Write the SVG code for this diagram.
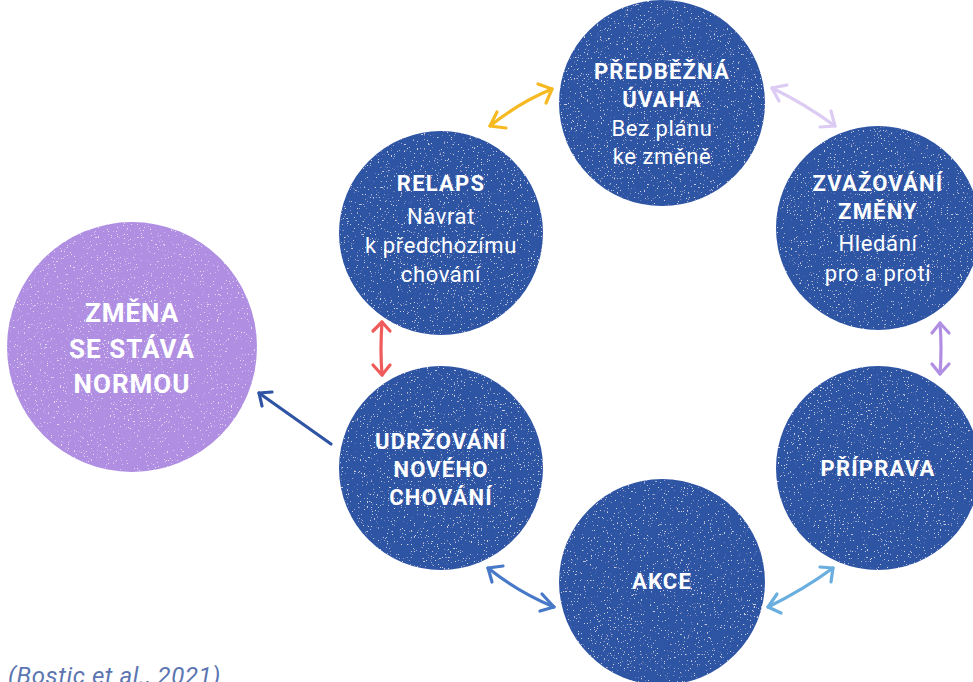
<svg xmlns="http://www.w3.org/2000/svg" width="973" height="682" viewBox="0 0 973 682">
<style>
.node{fill:#2f54a4}
.norm{fill:#b08fe3}
.b{font-family:Roboto,"Liberation Sans",sans-serif;font-weight:700;font-size:22px;letter-spacing:1.2px;fill:#fff;text-anchor:middle}
.r{font-family:Roboto,"Liberation Sans",sans-serif;font-weight:400;font-size:22px;letter-spacing:0.6px;fill:#fff;text-anchor:middle}
.big{font-family:Roboto,"Liberation Sans",sans-serif;font-weight:700;font-size:26px;letter-spacing:1px;fill:#fff;text-anchor:middle}
.c{fill:none;stroke-width:3.2;stroke-linecap:round;stroke-linejoin:round}
</style>
<defs>
<filter id="speck" x="0" y="0" width="100%" height="100%">
<feTurbulence type="fractalNoise" baseFrequency="0.7" numOctaves="2" seed="3" result="n"/>
<feColorMatrix in="n" type="matrix" values="0 0 0 0 1  0 0 0 0 1  0 0 0 0 1  14 0 0 0 -9.6" result="d"/>
<feComposite in="d" in2="SourceGraphic" operator="in" result="dm"/>
<feComponentTransfer in="dm" result="dm2"><feFuncA type="linear" slope="0.6"/></feComponentTransfer>
<feMerge><feMergeNode in="SourceGraphic"/><feMergeNode in="dm2"/></feMerge>
</filter>
</defs>
<g id="connectors">
<g stroke="#f6b921" class="c"><path d="M490 126 Q520 102 552 89"/><path d="M506 128 L490 126 L497 112"/><path d="M538 84 L552 89 L546 103"/></g>
<g stroke="#dccbf3" class="c"><path d="M772 88 Q805 104 835 126"/><path d="M787 85 L772 88 L779 101"/><path d="M831 111 L835 126 L820 127"/></g>
<g stroke="#b08fe3" class="c"><path d="M940 323 Q942 349 940 374"/><path d="M932 333 L940 323 L949 333"/><path d="M932 364 L940 374 L949 364"/></g>
<g stroke="#ef5a5a" class="c"><path d="M382 322 Q380 349 382 375"/><path d="M373 331 L382 322 L390 331"/><path d="M373 365 L382 375 L390 365"/></g>
<g stroke="#4779c8" class="c"><path d="M488 568 Q518 592 554 607"/><path d="M503 566 L488 568 L492 582"/><path d="M542 594 L554 607 L540 611"/></g>
<g stroke="#6aaee0" class="c"><path d="M768 607 Q803 590 833 568"/><path d="M781 613 L768 607 L777 594"/><path d="M820 567 L833 568 L831 582"/></g>
<g stroke="#2f54a4" class="c"><path d="M331 444 L259 393"/><path d="M272 392 L259 393 L262 406"/></g>
</g>
<g id="predbezna">
<circle class="node" cx="662" cy="103" r="103" filter="url(#speck)"/>
<text class="b" x="662" y="79">PŘEDBĚŽNÁ</text>
<text class="b" x="662" y="107">ÚVAHA</text>
<text class="r" x="662" y="136">Bez plánu</text>
<text class="r" x="662" y="164">ke změně</text>
</g>
<g id="relaps">
<circle class="node" cx="441" cy="233" r="102" filter="url(#speck)"/>
<text class="b" x="441" y="191">RELAPS</text>
<text class="r" x="441" y="224">Návrat</text>
<text class="r" x="441" y="253">k předchozímu</text>
<text class="r" x="441" y="282">chování</text>
</g>
<g id="zvazovani">
<circle class="node" cx="878" cy="228" r="102" filter="url(#speck)"/>
<text class="b" x="878" y="191">ZVAŽOVÁNÍ</text>
<text class="b" x="878" y="219">ZMĚNY</text>
<text class="r" x="878" y="251">Hledání</text>
<text class="r" x="878" y="281">pro a proti</text>
</g>
<g id="priprava">
<circle class="node" cx="878" cy="468" r="102" filter="url(#speck)"/>
<text class="b" x="878" y="476">PŘÍPRAVA</text>
</g>
<g id="akce">
<circle class="node" cx="662" cy="582" r="103" filter="url(#speck)"/>
<text class="b" x="662" y="589">AKCE</text>
</g>
<g id="udrzovani">
<circle class="node" cx="441" cy="468" r="102" filter="url(#speck)"/>
<text class="b" x="441" y="449">UDRŽOVÁNÍ</text>
<text class="b" x="441" y="477">NOVÉHO</text>
<text class="b" x="441" y="505">CHOVÁNÍ</text>
</g>
<g id="norma">
<circle class="norm" cx="132" cy="347" r="125" filter="url(#speck)"/>
<text class="big" x="132" y="322">ZMĚNA</text>
<text class="big" x="132" y="358">SE STÁVÁ</text>
<text class="big" x="132" y="393">NORMOU</text>
</g>
<text x="8" y="684" font-family="Roboto,'Liberation Sans',sans-serif" font-style="italic" font-size="24" letter-spacing="0.6" fill="#5b75b0">(Bostic et al., 2021)</text>
</svg>
